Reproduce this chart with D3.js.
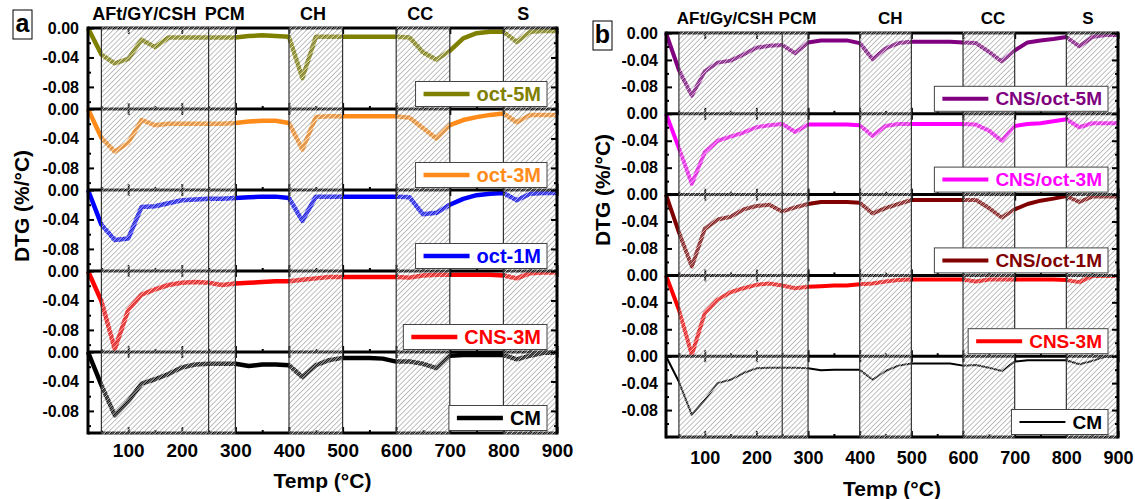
<!DOCTYPE html>
<html>
<head>
<meta charset="utf-8">
<script src="https://cdn.jsdelivr.net/npm/d3@7"></script>
<style>
  body { margin: 0; background: #fff; }
  svg text { font-family: Arial, "Liberation Sans", sans-serif; font-weight: bold; }
</style>
</head>
<body>
<div class="chart"></div>
<script>
// temperature steps (°C) shared by every curve
const temps = [25, 50, 75, 100, 125, 150, 175, 200, 225, 250, 275, 300, 325, 350, 375, 400, 425, 450,
  475, 500, 525, 550, 575, 600, 625, 650, 675, 700, 725, 750, 775, 800, 825, 850, 875, 900];

// panel a
const oct5M = [0, -0.036, -0.048, -0.042, -0.016, -0.026, -0.013, -0.013, -0.013, -0.013, -0.013, -0.013,
  -0.011, -0.010, -0.011, -0.012, -0.068, -0.012, -0.012, -0.012, -0.012, -0.012, -0.012, -0.012,
  -0.013, -0.033, -0.043, -0.031, -0.014, -0.007, -0.005, -0.005, -0.019, -0.005, -0.004, -0.004];
const oct3M = [0, -0.039, -0.058, -0.046, -0.015, -0.022, -0.020, -0.020, -0.020, -0.020, -0.020, -0.019,
  -0.017, -0.016, -0.016, -0.019, -0.055, -0.011, -0.010, -0.010, -0.010, -0.010, -0.010, -0.010,
  -0.012, -0.026, -0.040, -0.022, -0.015, -0.011, -0.008, -0.006, -0.018, -0.008, -0.008, -0.008];
const oct1M = [0, -0.047, -0.068, -0.066, -0.023, -0.022, -0.018, -0.014, -0.013, -0.012, -0.012, -0.011,
  -0.010, -0.009, -0.009, -0.011, -0.042, -0.009, -0.009, -0.009, -0.009, -0.009, -0.009, -0.009,
  -0.010, -0.033, -0.031, -0.020, -0.012, -0.007, -0.005, -0.004, -0.014, -0.005, -0.004, -0.004];
const cns3MA = [0, -0.041, -0.106, -0.053, -0.032, -0.025, -0.019, -0.016, -0.015, -0.016, -0.019, -0.017,
  -0.016, -0.015, -0.014, -0.014, -0.012, -0.010, -0.008, -0.008, -0.008, -0.008, -0.008, -0.008,
  -0.009, -0.006, -0.005, -0.005, -0.005, -0.005, -0.005, -0.006, -0.010, -0.003, -0.002, -0.002];
const cmA = [0, -0.045, -0.086, -0.067, -0.043, -0.037, -0.030, -0.021, -0.017, -0.016, -0.016, -0.016,
  -0.019, -0.017, -0.017, -0.018, -0.034, -0.018, -0.011, -0.008, -0.008, -0.008, -0.009, -0.013,
  -0.013, -0.016, -0.022, -0.005, -0.004, -0.004, -0.004, -0.004, -0.010, -0.005, -0.001, -0.001];

// panel b
const cnsOct5M = [0, -0.055, -0.093, -0.057, -0.044, -0.041, -0.032, -0.022, -0.019, -0.018, -0.030, -0.014,
  -0.011, -0.011, -0.011, -0.015, -0.039, -0.023, -0.015, -0.013, -0.013, -0.013, -0.013, -0.014,
  -0.015, -0.028, -0.042, -0.026, -0.014, -0.011, -0.009, -0.006, -0.020, -0.006, -0.003, -0.003];
const cnsOct3M = [0, -0.051, -0.104, -0.057, -0.040, -0.034, -0.028, -0.020, -0.017, -0.015, -0.027, -0.016,
  -0.016, -0.016, -0.016, -0.017, -0.033, -0.018, -0.015, -0.015, -0.015, -0.015, -0.015, -0.015,
  -0.016, -0.025, -0.040, -0.018, -0.015, -0.014, -0.011, -0.008, -0.020, -0.014, -0.014, -0.014];
const cnsOct1M = [0, -0.056, -0.107, -0.051, -0.037, -0.033, -0.022, -0.017, -0.015, -0.025, -0.019, -0.014,
  -0.011, -0.011, -0.011, -0.012, -0.028, -0.020, -0.014, -0.008, -0.008, -0.008, -0.008, -0.008,
  -0.008, -0.020, -0.034, -0.022, -0.014, -0.009, -0.006, -0.002, -0.011, -0.003, -0.003, -0.003];
const cns3MB = [0, -0.051, -0.118, -0.056, -0.036, -0.025, -0.019, -0.014, -0.012, -0.015, -0.019, -0.017,
  -0.016, -0.015, -0.015, -0.013, -0.012, -0.009, -0.007, -0.006, -0.006, -0.006, -0.006, -0.006,
  -0.009, -0.006, -0.006, -0.006, -0.006, -0.006, -0.006, -0.007, -0.010, -0.001, -0.001, -0.001];
const cmB = [0, -0.038, -0.087, -0.065, -0.040, -0.035, -0.025, -0.018, -0.017, -0.017, -0.017, -0.018,
  -0.021, -0.020, -0.020, -0.020, -0.035, -0.022, -0.014, -0.011, -0.011, -0.011, -0.011, -0.014,
  -0.013, -0.017, -0.022, -0.008, -0.006, -0.006, -0.006, -0.006, -0.012, -0.007, -0.001, -0.001];

const namesA = ["oct-5M", "oct-3M", "oct-1M", "CNS-3M", "CM"];
const colorsA = ["#808000", "#ff8c1a", "#0000ff", "#ff0000", "#000000"];
const namesB = ["CNS/oct-5M", "CNS/oct-3M", "CNS/oct-1M", "CNS-3M", "CM"];
const colorsB = ["#800080", "#ff00ff", "#800000", "#ff0000", "#000000"];

// hatched decomposition ranges and their labels
const bands = [[50, 250], [250, 300], [400, 500], [600, 700], [800, 900]];
const bandEdges = [50, 250, 300, 400, 500, 600, 700, 800];
const regionsA = ["AFt/GY/CSH", "PCM", "CH", "CC", "S"];
const regionsB = ["AFt/Gy/CSH", "PCM", "CH", "CC", "S"];

const xTicks = [100, 200, 300, 400, 500, 600, 700, 800, 900];
const xMinor = [50, 150, 250, 350, 450, 550, 650, 750, 850];
const yTicks = [0, -0.04, -0.08];
const yMinor = [-0.02, -0.06, -0.10];

const svg = d3
  .select(".chart")
  .append("svg")
  .attr("width", 1135)
  .attr("height", 499);

// hatch: thin grey stroke plus a white stroke so curves below look striped
let pat = svg
  .append("defs")
  .append("pattern")
  .attr("id", "hatch")
  .attr("patternUnits", "userSpaceOnUse")
  .attr("width", 3.6)
  .attr("height", 3.6)
  .attr("patternTransform", "rotate(45)");
pat.append("rect").attr("x", 1.7).attr("width", 0.8).attr("height", 3.6).attr("fill", "#fff");
pat.append("rect").attr("x", 0).attr("width", 0.65).attr("height", 3.6).attr("fill", "#9c9c9c");

function drawPanel(p) {
  let x = d3.scaleLinear().domain([25, 900]).range([p.left, p.right]);
  let bottom = p.top + p.h * 5;
  let g = svg.append("g");
  let ys = [];

  // curves
  p.series.forEach((vals, i) => {
    let top = p.top + i * p.h;
    let y = d3.scaleLinear().domain([p.yMin, 0]).range([top + p.h, top]);
    ys.push(y);
    let line = d3
      .line()
      .x((d, j) => x(temps[j]))
      .y((d) => y(d));
    g.append("path")
      .datum(vals)
      .attr("d", line)
      .attr("fill", "none")
      .attr("stroke", p.colors[i])
      .attr("stroke-width", p.widths[i])
      .attr("stroke-linejoin", "round");
  });

  // horizontal frame lines + small ticks on them
  for (let i = 0; i <= 5; i++) {
    let yy = p.top + i * p.h;
    g.append("line")
      .attr("x1", p.left).attr("x2", p.right)
      .attr("y1", yy).attr("y2", yy)
      .attr("stroke", "#000").attr("stroke-width", 3);
    if (i > 0) {
      g.append("g").attr("transform", `translate(0, ${yy})`)
        .call(d3.axisBottom(x).tickValues(xTicks).tickSize(-6).tickFormat(""))
        .call((s) => s.select(".domain").remove());
      g.append("g").attr("transform", `translate(0, ${yy})`)
        .call(d3.axisBottom(x).tickValues(xMinor).tickSize(-3).tickFormat(""))
        .call((s) => s.select(".domain").remove());
    }
    if (i < 5) {
      g.append("g").attr("transform", `translate(0, ${yy})`)
        .call(d3.axisTop(x).tickValues(xTicks).tickSize(-6).tickFormat(""))
        .call((s) => s.select(".domain").remove());
    }
  }
  g.selectAll(".tick line").attr("stroke-width", 2);

  // hatched ranges go on top of the curves
  g.selectAll(".band")
    .data(bands)
    .enter()
    .append("rect")
    .attr("class", "band")
    .attr("x", (d) => x(d[0]))
    .attr("y", p.top - 1.5)
    .attr("width", (d) => x(d[1]) - x(d[0]))
    .attr("height", bottom - p.top + 3)
    .attr("fill", "url(#hatch)");

  g.selectAll(".edge")
    .data(bandEdges)
    .enter()
    .append("line")
    .attr("class", "edge")
    .attr("x1", (d) => x(d)).attr("x2", (d) => x(d))
    .attr("y1", p.top).attr("y2", bottom)
    .attr("stroke", "#333").attr("stroke-width", 1.2);

  // left / right axes per subplot
  ys.forEach((y) => {
    let left = g.append("g").attr("transform", `translate(${p.left}, 0)`)
      .call(d3.axisLeft(y).tickValues(yTicks).tickSize(-6).tickPadding(p.yPad)
        .tickFormat((d) => d.toFixed(2)))
      .call((s) => s.select(".domain").remove());
    left.selectAll("text").attr("font-size", 16).attr("fill", "#000");
    g.append("g").attr("transform", `translate(${p.left}, 0)`)
      .call(d3.axisLeft(y).tickValues(yMinor).tickSize(-3).tickFormat(""))
      .call((s) => s.select(".domain").remove());
    g.append("g").attr("transform", `translate(${p.right}, 0)`)
      .call(d3.axisRight(y).tickValues(yTicks).tickSize(-6).tickFormat(""))
      .call((s) => s.select(".domain").remove());
    g.append("g").attr("transform", `translate(${p.right}, 0)`)
      .call(d3.axisRight(y).tickValues(yMinor).tickSize(-3).tickFormat(""))
      .call((s) => s.select(".domain").remove());
  });
  g.selectAll(".tick line").attr("stroke-width", 2);

  g.append("line")
    .attr("x1", p.left).attr("x2", p.left)
    .attr("y1", p.top - 1.5).attr("y2", bottom + 1.5)
    .attr("stroke", "#000").attr("stroke-width", 3);
  g.append("line")
    .attr("x1", p.right).attr("x2", p.right)
    .attr("y1", p.top - 1.5).attr("y2", bottom + 1.5)
    .attr("stroke", "#000").attr("stroke-width", 3);

  // bottom tick labels
  let xAxis = g.append("g").attr("transform", `translate(0, ${bottom})`)
    .call(d3.axisBottom(x).tickValues(xTicks).tickSize(0).tickPadding(p.xPad))
    .call((s) => s.select(".domain").remove());
  xAxis.selectAll("text").attr("font-size", p.xFont).attr("fill", "#000");

  // legends
  p.names.forEach((name, i) => {
    let boxBottom = p.top + (i + 1) * p.h - 2.5;
    let lg = g.append("g");
    let box = lg.append("rect")
      .attr("y", boxBottom - 25)
      .attr("height", 25)
      .attr("fill", "#fff")
      .attr("stroke", "#444")
      .attr("stroke-width", 1);
    let txt = lg.append("text")
      .attr("y", boxBottom - 6)
      .attr("font-size", p.legendFont)
      .attr("fill", p.colors[i])
      .text(name);
    let tw = txt.node().getComputedTextLength();
    let boxRight = p.right - p.legendGap;
    let boxLeft = boxRight - (8 + 46 + 7 + tw + 6);
    box.attr("x", boxLeft).attr("width", boxRight - boxLeft);
    txt.attr("x", boxLeft + 61);
    lg.append("line")
      .attr("x1", boxLeft + 8).attr("x2", boxLeft + 54)
      .attr("y1", boxBottom - 12.5).attr("y2", boxBottom - 12.5)
      .attr("stroke", p.colors[i])
      .attr("stroke-width", p.widths[i]);
  });

  // region names above the plot
  p.regions.forEach((r, i) => {
    g.append("text")
      .attr("x", x(p.regionAt[i]))
      .attr("y", p.regionY)
      .attr("text-anchor", i < 2 ? "start" : "middle")
      .attr("font-size", p.regionFont)
      .attr("fill", "#000")
      .text(r);
  });

  // axis titles
  g.append("text")
    .attr("transform", `translate(${p.yTitleX}, ${p.yTitleY}) rotate(-90)`)
    .attr("text-anchor", "middle")
    .attr("font-size", 21)
    .text("DTG (%/°C)");
  g.append("text")
    .attr("x", (p.left + p.right) / 2)
    .attr("y", p.xTitleY)
    .attr("text-anchor", "middle")
    .attr("font-size", 21)
    .text("Temp (°C)");

  // panel letter
  g.append("rect")
    .attr("x", p.tagX).attr("y", p.tagY)
    .attr("width", 19).attr("height", 29)
    .attr("fill", "#fff").attr("stroke", "#000").attr("stroke-width", 1);
  g.append("text")
    .attr("x", p.tagX + 9.5).attr("y", p.tagY + 22)
    .attr("text-anchor", "middle")
    .attr("font-size", 25)
    .text(p.tag);
}

drawPanel({
  left: 88, right: 557, top: 28, h: 81, yMin: -0.11,
  series: [oct5M, oct3M, oct1M, cns3MA, cmA],
  names: namesA, colors: colorsA, widths: [4.5, 4.5, 4.5, 4.5, 4.5],
  yPad: 9, xPad: 11, xFont: 19, legendFont: 20, legendGap: 10,
  regions: regionsA, regionAt: [33, 243, 445, 645, 837], regionY: 20, regionFont: 18,
  yTitleX: 29, yTitleY: 206, xTitleY: 488, tag: "a", tagX: 13, tagY: 10
});

drawPanel({
  left: 666, right: 1118, top: 33, h: 80.8, yMin: -0.12,
  series: [cnsOct5M, cnsOct3M, cnsOct1M, cns3MB, cmB],
  names: namesB, colors: colorsB, widths: [4, 4, 4, 4, 2],
  yPad: 8, xPad: 14, xFont: 18, legendFont: 19, legendGap: 10,
  regions: regionsB, regionAt: [46, 243, 459, 658, 842], regionY: 24, regionFont: 17,
  yTitleX: 610, yTitleY: 190, xTitleY: 496, tag: "b", tagX: 593, tagY: 21
});
</script>
</body>
</html>
